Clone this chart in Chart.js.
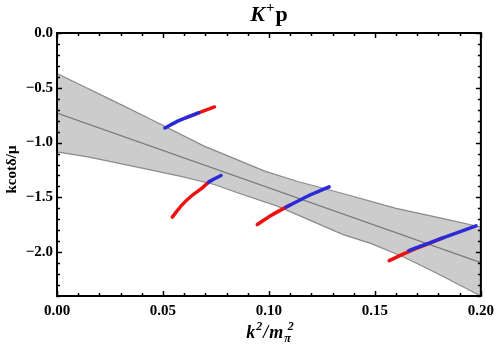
<!DOCTYPE html>
<html>
<head>
<meta charset="utf-8">
<script src="https://cdn.jsdelivr.net/npm/chart.js@4"></script>
<style>
  body { margin: 0; background: #fff; }
  #wrap { width: 500px; height: 345px; }
</style>
</head>
<body>
<div id="wrap"><canvas id="chart" width="500" height="345"></canvas></div>
<script>
// axis ticks
const xTicks = [0, 0.05, 0.1, 0.15, 0.2];
const yTicks = [0, -0.5, -1.0, -1.5, -2.0];
const xMinorStep = 0.01;
const yMinorStep = 0.1;

// error band (upper / lower edges) and central fit
const upperX = [0, 0.0107, 0.0256, 0.0435, 0.0692, 0.098, 0.1136, 0.137, 0.160, 0.179, 0.2];
const upperY = [-0.37, -0.47, -0.61, -0.78, -1.03, -1.26, -1.355, -1.476, -1.60, -1.68, -1.77];
const lowerX = [0, 0.0146, 0.0396, 0.059, 0.0746, 0.0855, 0.104, 0.135, 0.148, 0.163, 0.179, 0.2];
const lowerY = [-1.085, -1.13, -1.23, -1.31, -1.385, -1.46, -1.58, -1.84, -1.92, -2.04, -2.19, -2.40];
const centerX = [0, 0.2];
const centerY = [-0.73, -2.095];

// lattice points, red and blue pieces
const s1RedX = [0.0610, 0.0668, 0.0743];
const s1RedY = [-0.772, -0.729, -0.675];
const s1BlueX = [0.0509, 0.0575, 0.0621, 0.0668];
const s1BlueY = [-0.867, -0.80, -0.763, -0.729];

const s2RedX = [0.0544, 0.059, 0.0637, 0.0684, 0.0718];
const s2RedY = [-1.68, -1.568, -1.483, -1.415, -1.357];
const s2BlueX = [0.0715, 0.0745, 0.0774];
const s2BlueY = [-1.36, -1.328, -1.30];

const s3RedX = [0.0945, 0.101, 0.108, 0.110];
const s3RedY = [-1.748, -1.666, -1.59, -1.57];
const s3BlueX = [0.108, 0.1182, 0.1284];
const s3BlueY = [-1.59, -1.49, -1.404];

const s4RedX = [0.1567, 0.1665, 0.1759, 0.182];
const s4RedY = [-2.077, -1.99, -1.918, -1.87];
const s4BlueX = [0.166, 0.1759, 0.187, 0.1977];
const s4BlueY = [-1.985, -1.915, -1.835, -1.76];

const RED = '#ee1111';
const BLUE = '#2a2ad6';
const SERIF = '"Liberation Serif", "DejaVu Serif", serif';

function pts(xs, ys){
  return xs.map((x, i) => ({x: x, y: ys[i]}));
}

function piece(xs, ys, color){
  return {
    data: pts(xs, ys),
    borderColor: color,
    borderWidth: 3.5,
    borderCapStyle: 'round',
    pointRadius: 0,
    cubicInterpolationMode: 'monotone',
    fill: false,
    order: 1
  };
}

function minus(v, d){
  return (v < 0 ? '\u2212' : '') + Math.abs(v).toFixed(d);
}

// frame with inward ticks + titles
const framePlugin = {
  id: 'frame',
  afterDatasetsDraw(chart){
    const c = chart.ctx;
    const a = chart.chartArea;
    const xs = chart.scales.x, ys = chart.scales.y;
    c.save();
    c.strokeStyle = '#000';
    c.lineWidth = 1.5;
    c.beginPath();
    for (let v = 0; v <= 0.2001; v += xMinorStep) {
      const px = Math.round(xs.getPixelForValue(v)) + 0.5;
      const major = xTicks.some(t => Math.abs(t - v) < 1e-6);
      const len = major ? 5 : 3;
      c.moveTo(px, a.bottom); c.lineTo(px, a.bottom - len);
      c.moveTo(px, a.top); c.lineTo(px, a.top + len);
    }
    for (let v = 0; v >= -2.4001; v -= yMinorStep) {
      const py = Math.round(ys.getPixelForValue(v)) + 0.5;
      const major = yTicks.some(t => Math.abs(t - v) < 1e-6);
      const len = major ? 5 : 3;
      c.moveTo(a.left, py); c.lineTo(a.left + len, py);
      c.moveTo(a.right, py); c.lineTo(a.right - len, py);
    }
    c.stroke();
    c.lineWidth = 2;
    c.strokeRect(a.left, a.top, a.right - a.left, a.bottom - a.top);

    // title K+p
    const cx = (a.left + a.right) / 2;
    c.fillStyle = '#000';
    c.textBaseline = 'alphabetic';
    c.textAlign = 'left';
    const big = 'bold italic 22px ' + SERIF;
    const sup = 'bold 15px ' + SERIF;
    const bigUp = 'bold 22px ' + SERIF;
    c.font = big; const wK = c.measureText('K').width;
    c.font = sup; const wP = c.measureText('+').width;
    c.font = bigUp; const wp = c.measureText('p').width;
    let x0 = cx - (wK + wP + wp + 2) / 2;
    const by = 21;
    c.font = big; c.fillText('K', x0, by); x0 += wK + 1;
    c.font = sup; c.fillText('+', x0, by - 9); x0 += wP + 1;
    c.font = bigUp; c.fillText('p', x0, by);

    // x title k^2/m_pi^2
    const it = 'bold italic 18px ' + SERIF;
    const sm = 'bold italic 12px ' + SERIF;
    const parts = [
      ['k', it, 0], ['2', sm, -8], ['/', it, 0], ['m', it, 0], ['\u03c0', sm, 4], ['2', sm, -8]
    ];
    let tw = 0;
    parts.forEach((p, i) => { if (i !== 5) { c.font = p[1]; tw += c.measureText(p[0]).width + 1; } });
    let px0 = cx - tw / 2;
    const bx = 338;
    parts.forEach((p, i) => {
      c.font = p[1];
      let xx = px0;
      if (i === 5) xx = px0 - 4;
      c.fillText(p[0], xx, bx + p[2]);
      if (i !== 5) px0 += c.measureText(p[0]).width + 1;
    });

    // y title
    c.translate(16, (a.top + a.bottom) / 2 + 5);
    c.rotate(-Math.PI / 2);
    c.textAlign = 'center';
    c.font = 'bold 15px ' + SERIF;
    c.fillText('kcot\u03b4/\u03bc', 0, 0);
    c.restore();
  }
};

new Chart(document.getElementById('chart'), {
  type: 'line',
  data: {
    datasets: [
      piece(s1BlueX, s1BlueY, BLUE),
      piece(s2BlueX, s2BlueY, BLUE),
      piece(s3BlueX, s3BlueY, BLUE),
      piece(s4BlueX, s4BlueY, BLUE),
      piece(s1RedX, s1RedY, RED),
      piece(s2RedX, s2RedY, RED),
      piece(s3RedX, s3RedY, RED),
      piece(s4RedX, s4RedY, RED),
      {
        data: pts(centerX, centerY),
        borderColor: '#7a7a7a',
        borderWidth: 1.2,
        pointRadius: 0,
        fill: false,
        order: 5
      },
      {
        data: pts(lowerX, lowerY),
        borderColor: '#8a8a8a',
        borderWidth: 1.2,
        pointRadius: 0,
        fill: false,
        order: 10
      },
      {
        data: pts(upperX, upperY),
        borderColor: '#8a8a8a',
        borderWidth: 1.2,
        pointRadius: 0,
        backgroundColor: '#cccccc',
        fill: '-1',
        order: 10
      }
    ]
  },
  options: {
    responsive: false,
    animation: false,
    layout: { padding: { left: 0, right: 15, top: 33, bottom: 0 } },
    plugins: {
      legend: { display: false },
      tooltip: { enabled: false },
      filler: { drawTime: 'beforeDatasetsDraw' }
    },
    scales: {
      x: {
        type: 'linear',
        min: 0,
        max: 0.2,
        grid: { display: false, drawTicks: false },
        border: { display: false },
        afterBuildTicks: s => { s.ticks = xTicks.map(v => ({value: v})); },
        afterFit: s => { s.height = 49; },
        ticks: {
          padding: 6,
          maxRotation: 0,
          color: '#000',
          font: { family: SERIF, size: 15, weight: 'bold' },
          callback: v => minus(v, 2)
        }
      },
      y: {
        type: 'linear',
        min: -2.4,
        max: 0,
        grid: { display: false, drawTicks: false },
        border: { display: false },
        afterBuildTicks: s => { s.ticks = yTicks.map(v => ({value: v})); },
        afterFit: s => { s.width = 57; },
        ticks: {
          padding: 4,
          color: '#000',
          font: { family: SERIF, size: 15, weight: 'bold' },
          callback: v => minus(v, 1)
        }
      }
    }
  },
  plugins: [framePlugin]
});
</script>
</body>
</html>
